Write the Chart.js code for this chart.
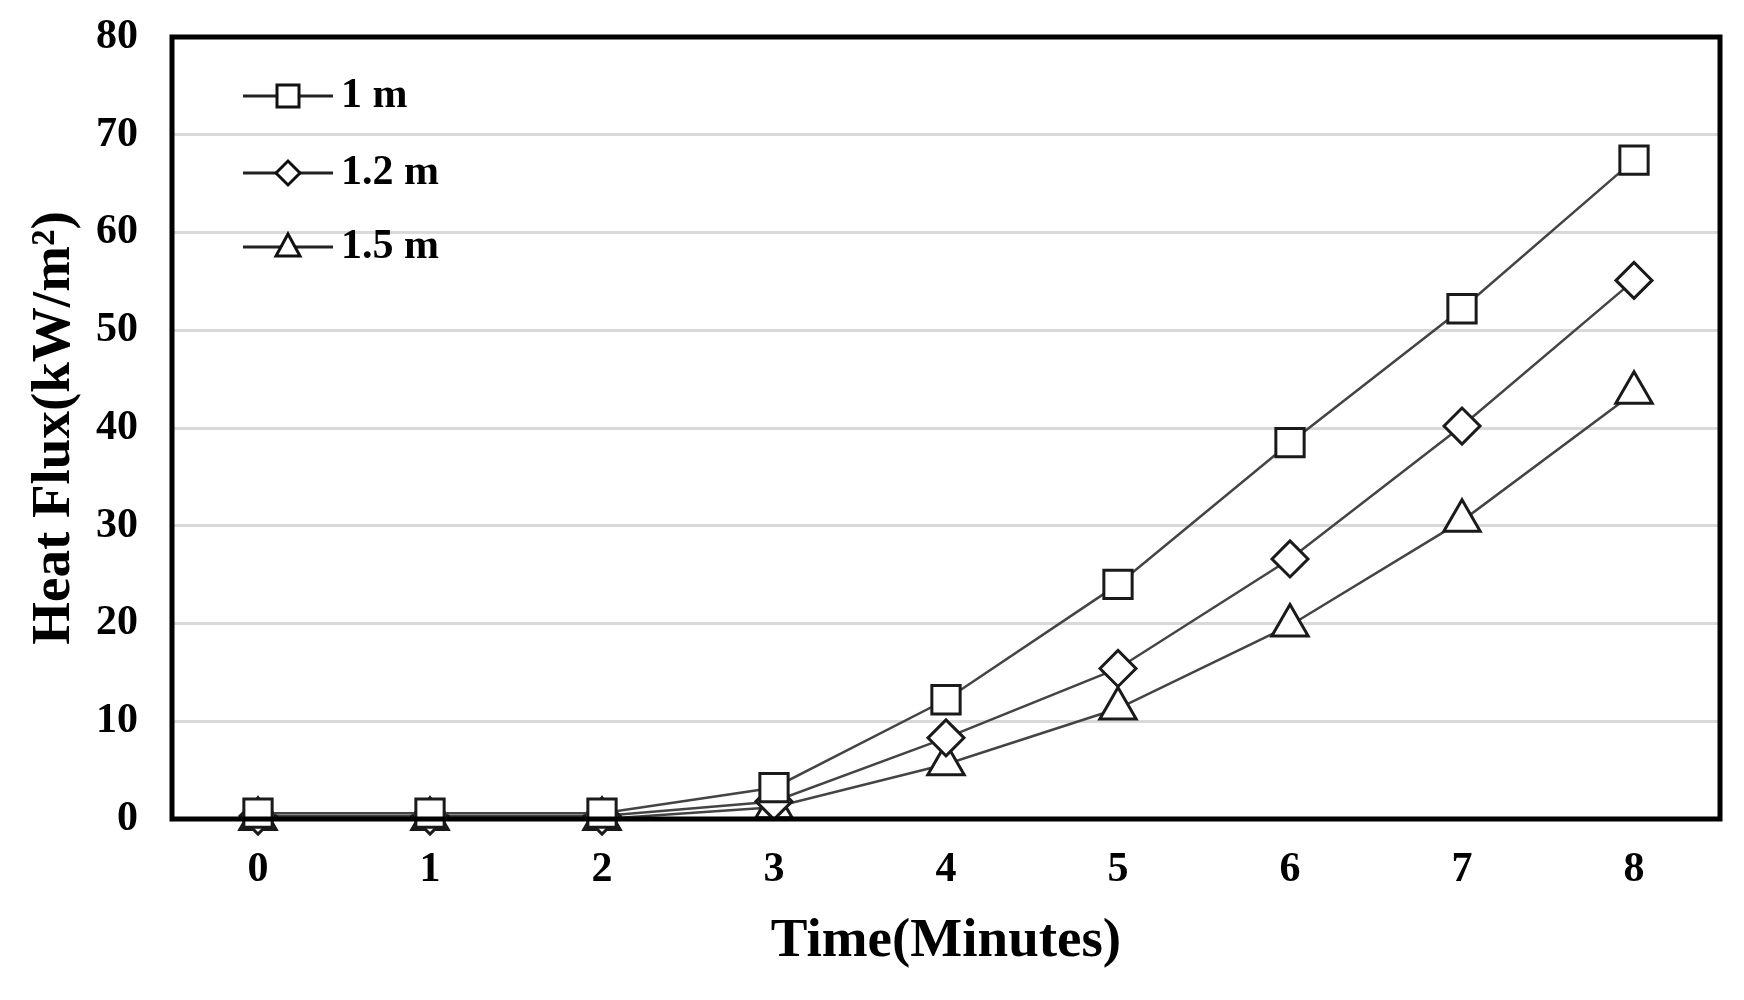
<!DOCTYPE html>
<html>
<head>
<meta charset="utf-8">
<script src="https://cdn.jsdelivr.net/npm/chart.js@4.4.1/dist/chart.umd.min.js"></script>
<style>
  html, body { margin: 0; padding: 0; background: #fff; }
  #wrap { width: 1744px; height: 1000px; }
</style>
</head>
<body>
<div id="wrap"><canvas id="heatChart"></canvas></div>
<script>
// 数据
const timeLabels = ['0', '1', '2', '3', '4', '5', '6', '7', '8'];
const seriesNames = ['1 m', '1.2 m', '1.5 m'];
const flux1m = [0.6, 0.6, 0.6, 3.2, 12.2, 24.0, 38.5, 52.2, 67.4];
const flux12m = [0.3, 0.3, 0.3, 1.8, 8.3, 15.4, 26.6, 40.2, 55.1];
const flux15m = [0, 0, 0, 1.2, 5.6, 11.3, 19.8, 30.5, 43.6];
const yTicks = [0, 10, 20, 30, 40, 50, 60, 70, 80];

const fontFamily = '"Liberation Serif", "Times New Roman", serif';
const markerStyles = ['rect', 'rectRot', 'triangle'];
const markerSizes = [20, 18, 21];

// 图例和边框
const framePlugin = {
    id: 'frame',
    afterDatasetsDraw(chart) {
        const { ctx, chartArea } = chart;
        ctx.save();
        ctx.strokeStyle = '#000';
        ctx.lineWidth = 5;
        ctx.strokeRect(chartArea.left, chartArea.top, chartArea.right - chartArea.left, chartArea.bottom - chartArea.top);

        // 图例
        const rows = [96, 173, 247];
        ctx.font = 'bold 42px ' + fontFamily;
        ctx.textBaseline = 'middle';
        chart.data.datasets.forEach((ds, i) => {
            const y = rows[i];
            ctx.strokeStyle = '#222';
            ctx.lineWidth = 3;
            ctx.beginPath();
            ctx.moveTo(243, y);
            ctx.lineTo(333, y);
            ctx.stroke();
            ctx.fillStyle = '#fff';
            ctx.strokeStyle = '#111';
            ctx.lineWidth = 3;
            ctx.beginPath();
            const cx = 288;
            if (i === 0) {
                ctx.rect(cx - 11, y - 11, 22, 22);
            } else if (i === 1) {
                ctx.moveTo(cx - 12, y);
                ctx.lineTo(cx, y - 12);
                ctx.lineTo(cx + 12, y);
                ctx.lineTo(cx, y + 12);
                ctx.closePath();
            } else {
                ctx.moveTo(cx, y - 13);
                ctx.lineTo(cx + 12, y + 9);
                ctx.lineTo(cx - 12, y + 9);
                ctx.closePath();
            }
            ctx.fill();
            ctx.stroke();
            ctx.fillStyle = '#000';
            ctx.fillText(ds.label, 341, y);
        });
        ctx.restore();
    }
};

const seriesData = [flux1m, flux12m, flux15m];
const datasets = seriesNames.map((name, i) => ({
    label: name,
    data: seriesData[i],
    borderColor: '#444',
    borderWidth: 2.5,
    pointStyle: markerStyles[i],
    pointRadius: markerSizes[i],
    pointBackgroundColor: '#fff',
    pointBorderColor: '#1a1a1a',
    pointBorderWidth: 3,
    tension: 0,
    clip: false
}));

new Chart(document.getElementById('heatChart'), {
    type: 'line',
    data: { labels: timeLabels, datasets: datasets },
    options: {
        responsive: true,
        maintainAspectRatio: false,
        animation: false,
        layout: { padding: { top: 37, right: 24, left: 0, bottom: 0 } },
        plugins: {
            legend: { display: false },
            tooltip: { enabled: false }
        },
        scales: {
            x: {
                offset: true,
                grid: { display: false, drawTicks: false },
                border: { display: false },
                ticks: {
                    color: '#000',
                    padding: 26,
                    font: { family: fontFamily, size: 42, weight: 'bold' }
                },
                title: {
                    display: true,
                    text: 'Time(Minutes)',
                    color: '#000',
                    padding: { top: 0, bottom: 25 },
                    font: { family: fontFamily, size: 55, weight: 'bold' }
                },
                afterFit(scale) { scale.height = 181; }
            },
            y: {
                min: 0,
                max: 80,
                afterBuildTicks(scale) { scale.ticks = yTicks.map(v => ({ value: v })); },
                grid: { color: '#d9d9d9', lineWidth: 3, drawTicks: false },
                border: { display: false },
                ticks: {
                    color: '#000',
                    padding: 34,
                    font: { family: fontFamily, size: 42, weight: 'bold' }
                },
                title: {
                    display: true,
                    text: 'Heat Flux(kW/m²)',
                    color: '#000',
                    padding: { top: 22, bottom: 0 },
                    font: { family: fontFamily, size: 55, weight: 'bold' }
                },
                afterFit(scale) {
                    scale.width = 172;
                    scale.paddingTop = 0;
                    scale.paddingBottom = 0;
                }
            }
        }
    },
    plugins: [framePlugin]
});
</script>
</body>
</html>
